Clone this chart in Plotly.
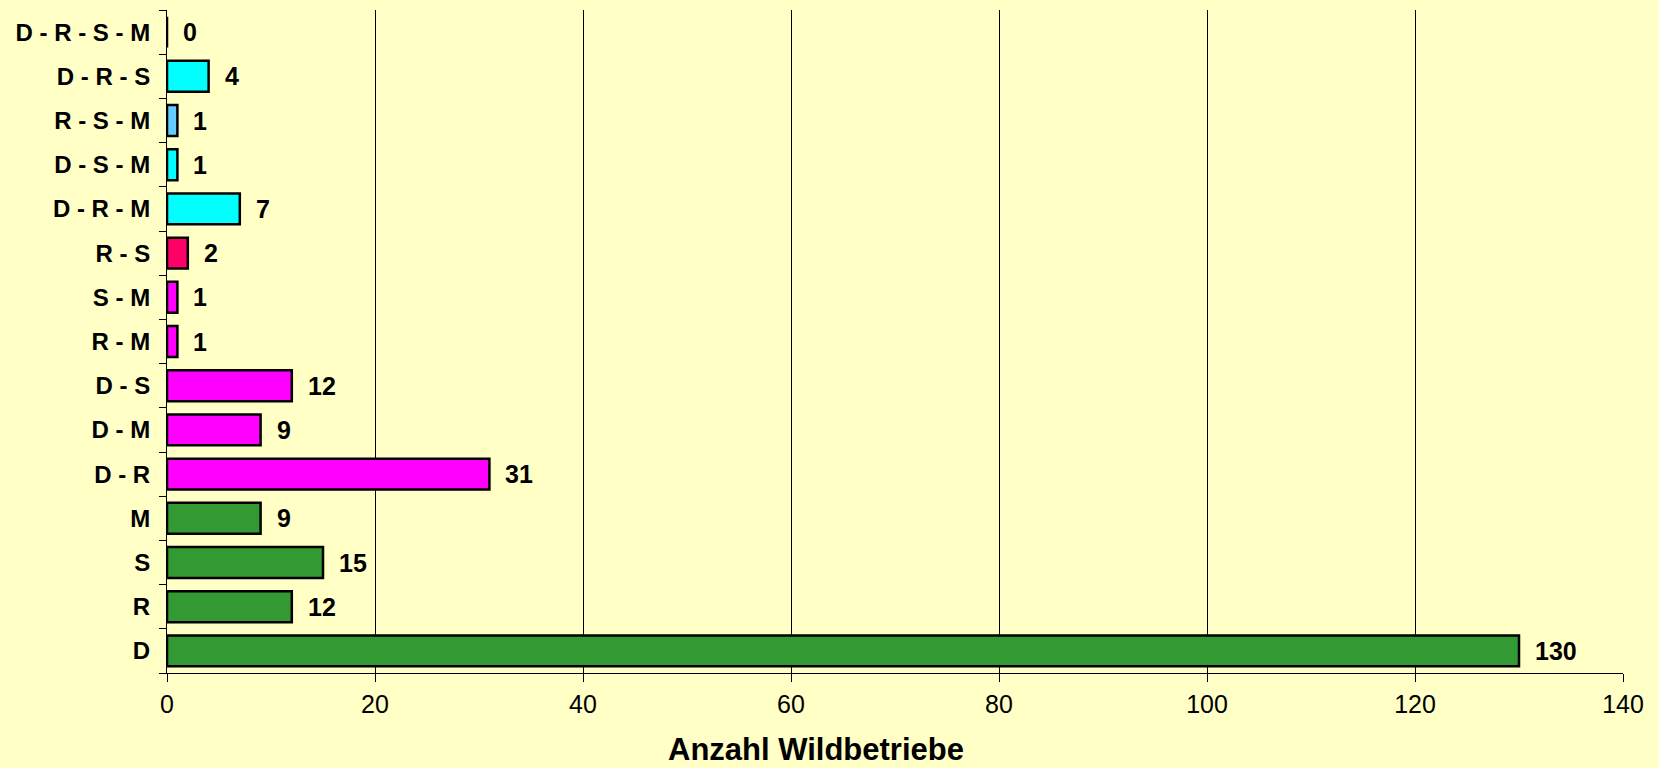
import plotly.graph_objects as go

# categories from bottom to top
categories = ["D", "R", "S", "M", "D - R", "D - M", "D - S", "R - M", "S - M",
              "R - S", "D - R - M", "D - S - M", "R - S - M", "D - R - S", "D - R - S - M"]
counts = [130, 12, 15, 9, 31, 9, 12, 1, 1, 2, 7, 1, 1, 4, 0]
bar_colors = ["#339933", "#339933", "#339933", "#339933",
              "#FF00FF", "#FF00FF", "#FF00FF", "#FF00FF", "#FF00FF",
              "#FF0066", "#00FFFF", "#00FFFF", "#66CCFF", "#00FFFF", "#00FFFF"]
x_title = "Anzahl Wildbetriebe"

bg = "#FFFFC6"
font_family = "Liberation Sans, Arial, sans-serif"

fig = go.Figure()
fig.add_trace(go.Bar(
    x=counts, y=categories, orientation="h",
    marker=dict(color=bar_colors, line=dict(color="black", width=2.5)),
    width=0.7,
    hoverinfo="x+y",
))

# value labels right of each bar
annotations = []
for cat, val in zip(categories, counts):
    annotations.append(dict(
        x=val, y=cat, xref="x", yref="y", text=f"<b>{val}</b>",
        showarrow=False, xanchor="left", yanchor="middle", xshift=14,
        font=dict(size=25, color="black", family=font_family)
    ))

# axis title sits a little left of the plot centre, like the original
annotations.append(dict(
    x=0.4457, y=-0.116, xref="paper", yref="paper", text=f"<b>{x_title}</b>",
    showarrow=False, xanchor="center", yanchor="middle",
    font=dict(size=31, color="black", family=font_family)
))

# page body adds an 8px offset; figure is as tall as the window so nothing is clipped
fig.update_layout(
    width=1651, height=768,
    paper_bgcolor=bg, plot_bgcolor=bg,
    margin=dict(l=159, r=36, t=2, b=103, autoexpand=False),
    showlegend=False,
    font=dict(family=font_family, color="black"),
    annotations=annotations,
    xaxis=dict(
        range=[0, 140], dtick=20, tick0=0,
        showgrid=True, gridcolor="black", gridwidth=1,
        showline=True, linecolor="black", linewidth=1,
        ticks="outside", ticklen=8, tickcolor="black",
        tickfont=dict(size=25),
        ticklabelstandoff=1,
        zeroline=False,
    ),
    yaxis=dict(
        type="category", categoryorder="array", categoryarray=categories,
        range=[-0.5, len(categories) - 0.5],
        showline=True, linecolor="black", linewidth=1,
        ticks="outside", ticklen=7, tickcolor="black", tickson="boundaries",
        tickfont=dict(size=24),
        ticklabelstandoff=11,
        showgrid=False,
        tickvals=categories,
        ticktext=[f"<b>{c}</b>" for c in categories],
    ),
)

# paint the page margin the same yellow as the chart
fig.write_html("out.html", post_script=f"document.body.style.background='{bg}';")
